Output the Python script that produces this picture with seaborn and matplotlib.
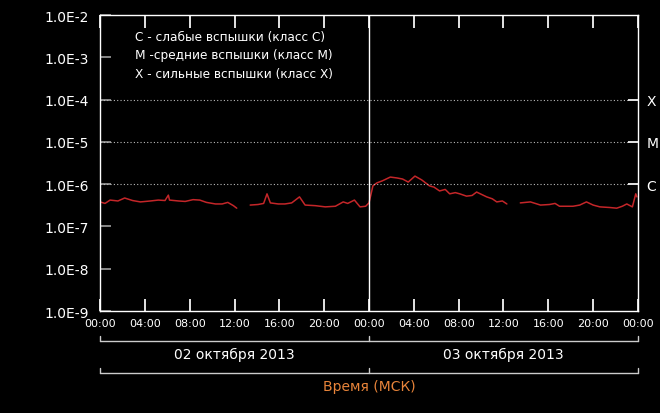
import numpy as np
import pandas as pd
import matplotlib
matplotlib.use("Agg")
import matplotlib.pyplot as plt
import matplotlib.transforms as mtransforms
import seaborn as sns

# hours since 02 Oct 2013 00:00 MSK, GOES X-ray flux (W/m^2); NaN = data gap
hours = [0.0, 0.45, 0.9, 1.6, 2.2, 2.9, 3.6, 4.5, 5.2, 5.8, 6.1, 6.2, 7.0, 7.6,
         8.3, 8.9, 9.5, 10.3, 10.9, 11.4, 11.9, 12.2, 12.8,
         13.4, 14.1, 14.6, 14.9, 15.2, 15.9, 16.5, 17.1, 17.8, 18.3, 19.2, 20.1,
         21.0, 21.7, 22.1, 22.7, 23.2, 23.7, 24.0,
         24.35, 24.7, 25.2, 25.9, 26.5, 27.0, 27.5, 28.1, 28.7, 29.4, 29.8, 30.3,
         30.8, 31.2, 31.7, 32.1, 32.7, 33.2, 33.6, 34.5, 35.0, 35.4, 35.9, 36.3,
         36.9,
         37.5, 38.4, 39.3, 40.1, 40.6, 41.0, 42.2, 42.8, 43.4, 44.0, 44.6, 45.5,
         46.1, 46.6, 47.0, 47.5, 47.8, 47.9]
flux = [3.8e-7, 3.5e-7, 4.2e-7, 4.0e-7, 4.7e-7, 4.1e-7, 3.8e-7, 4.0e-7, 4.2e-7,
        4.1e-7, 5.5e-7, 4.2e-7, 4.0e-7, 3.9e-7, 4.3e-7, 4.2e-7, 3.7e-7, 3.4e-7,
        3.4e-7, 3.7e-7, 3.1e-7, 2.7e-7, np.nan,
        3.2e-7, 3.3e-7, 3.5e-7, 5.9e-7, 3.6e-7, 3.4e-7, 3.4e-7, 3.6e-7, 5.0e-7,
        3.2e-7, 3.1e-7, 2.9e-7, 3.0e-7, 3.8e-7, 3.5e-7, 4.2e-7, 2.9e-7, 3.0e-7,
        3.6e-7,
        9.1e-7, 1.07e-6, 1.2e-6, 1.47e-6, 1.4e-6, 1.32e-6, 1.12e-6, 1.55e-6,
        1.26e-6, 9.1e-7, 8.5e-7, 6.9e-7, 7.5e-7, 5.9e-7, 6.3e-7, 5.9e-7, 5.2e-7,
        5.4e-7, 6.5e-7, 5.0e-7, 4.5e-7, 3.8e-7, 4.0e-7, 3.4e-7, np.nan,
        3.6e-7, 3.8e-7, 3.2e-7, 3.3e-7, 3.5e-7, 3.0e-7, 3.0e-7, 3.2e-7, 3.8e-7,
        3.2e-7, 2.9e-7, 2.8e-7, 2.7e-7, 3.0e-7, 3.4e-7, 2.9e-7, 5.9e-7, 5.0e-7]

y_ticks = [1e-9, 1e-8, 1e-7, 1e-6, 1e-5, 1e-4, 1e-3, 1e-2]
y_labels = ["1.0E-9", "1.0E-8", "1.0E-7", "1.0E-6", "1.0E-5", "1.0E-4", "1.0E-3", "1.0E-2"]
x_ticks = [0, 4, 8, 12, 16, 20, 24, 28, 32, 36, 40, 44, 48]
x_labels = ["00:00", "04:00", "08:00", "12:00", "16:00", "20:00", "00:00",
            "04:00", "08:00", "12:00", "16:00", "20:00", "00:00"]
class_levels = [1e-6, 1e-5, 1e-4]
class_labels = ["C", "M", "X"]
legend_lines = ["C - слабые вспышки (класс C)",
                "M -средние вспышки (класс M)",
                "X - сильные вспышки (класс X)"]
days = ["02 октября 2013", "03 октября 2013"]
day_centers = [12, 36]

df = pd.DataFrame({"hour": hours, "flux": flux})
df["segment"] = df["flux"].isna().cumsum()
df = df.dropna()

sns.set_theme(style="ticks")
plt.rcParams["font.family"] = ["DejaVu Sans"]

fig = plt.figure(figsize=(6.6, 4.14), dpi=100, facecolor="black")
ax = fig.add_axes([100 / 660, 102 / 414, 538 / 660, 296 / 414])
ax.set_facecolor("black")

sns.lineplot(data=df, x="hour", y="flux", units="segment", estimator=None,
             color="#c42629", lw=1.1, ax=ax)

ax.set_yscale("log")
ax.set_ylim(1e-9, 1e-2)
ax.set_xlim(0, 48)
ax.set_yticks(y_ticks)
ax.set_yticklabels(y_labels)
ax.minorticks_off()
ax.set_xticks(x_ticks)
ax.set_xticklabels(x_labels)
ax.set_xticks(range(0, 49), minor=True)
ax.set_xlabel("")
ax.set_ylabel("")

for s in ax.spines.values():
    s.set_color("white")
    s.set_linewidth(1.0)

ax.tick_params(axis="y", direction="in", length=8, color="#999999",
               labelcolor="white", labelsize=10, pad=8, right=False)
ax.tick_params(axis="x", which="major", direction="in", length=9, color="white",
               labelcolor="white", labelsize=8, top=True, pad=5)
ax.tick_params(axis="x", which="minor", direction="in", length=4, color="white",
               top=True)

# flare class levels
for lvl in class_levels:
    ax.axhline(lvl, xmax=0.985, color="#bbbbbb", lw=0.8, ls=(0, (1, 2)))
ax2 = ax.twinx()
ax2.set_yscale("log")
ax2.set_ylim(1e-9, 1e-2)
ax2.set_yticks(class_levels)
ax2.set_yticklabels(class_labels)
ax2.minorticks_off()
ax2.tick_params(axis="y", direction="in", length=7, color="white",
                labelcolor="white", labelsize=10, pad=6)
for s in ax2.spines.values():
    s.set_visible(False)

# midnight line
ax.axvline(24, color="white", lw=1.0)

for i, line in enumerate(legend_lines):
    ax.text(0.065, 0.929 - 0.063 * i, line, transform=ax.transAxes,
            color="white", fontsize=8.7, va="center", ha="left")

# date brackets below the axis
tr = mtransforms.blended_transform_factory(ax.transData, ax.transAxes)
for yb in [-0.101, -0.209]:
    ax.plot([0, 48], [yb, yb], color="#cccccc", lw=1.0, transform=tr, clip_on=False)
    for xb in [0, 24, 48]:
        ax.plot([xb, xb], [yb, yb + 0.017], color="#cccccc", lw=1.0,
                transform=tr, clip_on=False)
for xc, d in zip(day_centers, days):
    ax.text(xc, -0.145, d, transform=tr, color="white", fontsize=10,
            ha="center", va="center")
ax.text(24, -0.252, "Время (МСК)", transform=tr, color="#e8843a", fontsize=10,
        ha="center", va="center")

fig.savefig("out.png", dpi=100, facecolor="black")
